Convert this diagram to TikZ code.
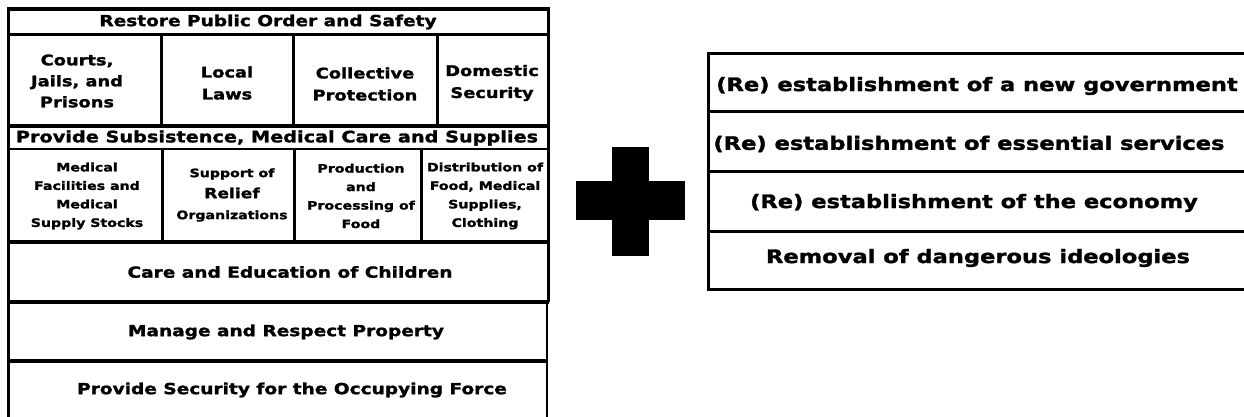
\documentclass[tikz,border=0pt]{standalone}
\usepackage{fontspec}
\newfontfamily\bk{DejaVu Sans}[FakeStretch=1.22, FakeBold=1.6]
\begin{document}
\begin{tikzpicture}[x=1pt,y=-1pt,
  lbl/.style={inner sep=0pt, align=center, text=black},
  ttl/.style={lbl, font=\bk\bfseries\fontsize{15.2}{18}\selectfont},
  cella/.style={lbl, font=\bk\bfseries\fontsize{14.6}{22}\selectfont},
  cellb/.style={lbl, font=\bk\bfseries\fontsize{11.6}{18.5}\selectfont},
  rtxt/.style={lbl, font=\bk\bfseries\fontsize{18.5}{22}\selectfont},
  heavy/.style={line width=3.5pt},
  medium/.style={line width=3pt},
  light/.style={line width=2pt}]
\useasboundingbox (0,0) rectangle (1244,417);

% ---- left block frame ----
\draw[heavy, line join=miter] (8.5,417) -- (8.5,9) -- (548.5,9) -- (548.5,302);
\draw[line width=2.5pt] (547,302) -- (547,417);
\draw[medium] (8.5,35) -- (548.5,35);
\draw[line width=4pt] (8.5,126) -- (548.5,126);
\draw[light] (8.5,149) -- (548.5,149);
\draw[line width=4pt] (8.5,242) -- (548.5,242);
\draw[heavy] (8.5,302) -- (548.5,302);
\draw[heavy] (8.5,361) -- (547,361);
% column dividers
\foreach \xx in {161,293,437} \draw[medium] (\xx,35) -- (\xx,126);
\foreach \xx in {162,294,421} \draw[medium] (\xx,149) -- (\xx,242);

% ---- left block texts ----
\node[ttl] (restore) at (268,22) {Restore Public Order and Safety};
\node[cella] (courts) at (77,81) {Courts,\\[-1pt]Jails, and\\[-1pt]Prisons};
\node[cella] (laws) at (227,83) {Local\\Laws};
\node[cella] (collective) at (365,84) {Collective\\Protection};
\node[cella] (domestic) at (492,83) {Domestic\\Security};
\node[ttl, font=\bk\bfseries\fontsize{15.8}{18}\selectfont] (subsist) at (277,138) {Provide Subsistence, Medical Care and Supplies};
\node[cellb] (medical) at (87,196) {Medical\\Facilities and\\Medical\\Supply Stocks};
\node[cellb, font=\bk\bfseries\fontsize{11.6}{21}\selectfont] (relief) at (232,195) {Support of\\{\fontsize{14}{21}\selectfont Relief}\\Organizations};
\node[cellb] (production) at (361,196) {Production\\and\\Processing of\\Food};
\node[cellb] (distribution) at (485,196) {Distribution of\\Food, Medical\\Supplies,\\Clothing};
\node[ttl] (children) at (290,272) {Care and Education of Children};
\node[ttl] (property) at (286,332) {Manage and Respect Property};
\node[ttl] (security) at (292,390) {Provide Security for the Occupying Force};

% ---- plus sign ----
\fill (576,181) rectangle (685,220);
\fill (612,147) rectangle (649,256);

% ---- right box ----
\draw[medium] (708,52.5) -- (708,290.5);
\foreach \yy in {54,112,171,231,289} \draw[medium] (706.5,\yy) -- (1244,\yy);
\node[rtxt] (gov) at (977,86) {(Re) establishment of a new government};
\node[rtxt] (services) at (969,144) {(Re) establishment of essential services};
\node[rtxt] (economy) at (974,203) {(Re) establishment of the economy};
\node[rtxt] (ideologies) at (978,258) {Removal of dangerous ideologies};
\end{tikzpicture}
\end{document}
